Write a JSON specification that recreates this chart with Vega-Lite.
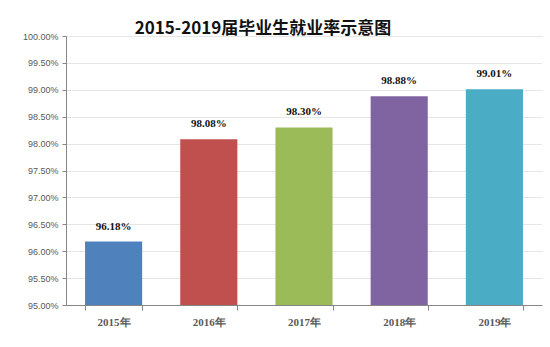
{
  "$schema": "https://vega.github.io/schema/vega-lite/v6.json",
  "autosize": "none",
  "width": 476,
  "height": 269,
  "padding": {"left": 66, "top": 36, "right": 8, "bottom": 42},
  "background": "white",
  "title": {
    "text": "2015-2019届毕业生就业率示意图",
    "anchor": "middle",
    "frame": "group",
    "dx": -41,
    "dy": 6,
    "font": "Noto Sans CJK SC",
    "fontSize": 17,
    "fontWeight": "bold",
    "color": "#111111",
    "offset": 0
  },
  "data": {
    "values": [
      {"year": "2015年", "rate": 0.9618},
      {"year": "2016年", "rate": 0.9808},
      {"year": "2017年", "rate": 0.9830},
      {"year": "2018年", "rate": 0.9888},
      {"year": "2019年", "rate": 0.9901}
    ]
  },
  "encoding": {
    "x": {
      "field": "year",
      "type": "nominal",
      "sort": null,
      "scale": {"paddingInner": 0.4, "paddingOuter": 0.2},
      "axis": {
        "title": null,
        "labelAngle": 0,
        "labelFont": "Liberation Serif",
        "labelFontSize": 11,
        "labelFontWeight": "bold",
        "labelColor": "#595959",
        "labelPadding": 6,
        "tickBand": "extent",
        "tickColor": "#868686",
        "tickSize": 5,
        "domainColor": "#868686",
        "grid": false
      }
    },
    "y": {
      "field": "rate",
      "type": "quantitative",
      "scale": {"domain": [0.95, 1], "nice": false, "zero": false},
      "axis": {
        "title": null,
        "values": [0.95, 0.955, 0.96, 0.965, 0.97, 0.975, 0.98, 0.985, 0.99, 0.995, 1],
        "format": ".2%",
        "labelFont": "Liberation Sans",
        "labelFontSize": 9,
        "labelColor": "#595959",
        "labelPadding": 4,
        "tickColor": "#868686",
        "tickSize": 4,
        "domainColor": "#868686",
        "gridColor": "#e6e6e6"
      }
    }
  },
  "layer": [
    {
      "mark": {"type": "bar", "clip": true},
      "encoding": {
        "color": {
          "field": "year",
          "type": "nominal",
          "legend": null,
          "scale": {"range": ["#4F81BD", "#C0504D", "#9BBB59", "#8064A2", "#4BACC6"]}
        }
      }
    },
    {
      "mark": {
        "type": "text",
        "baseline": "bottom",
        "dy": -10,
        "font": "Liberation Serif",
        "fontSize": 11,
        "fontWeight": "bold",
        "color": "#111111"
      },
      "encoding": {
        "text": {"field": "rate", "type": "quantitative", "format": ".2%"}
      }
    }
  ],
  "config": {
    "view": {"stroke": null}
  }
}
